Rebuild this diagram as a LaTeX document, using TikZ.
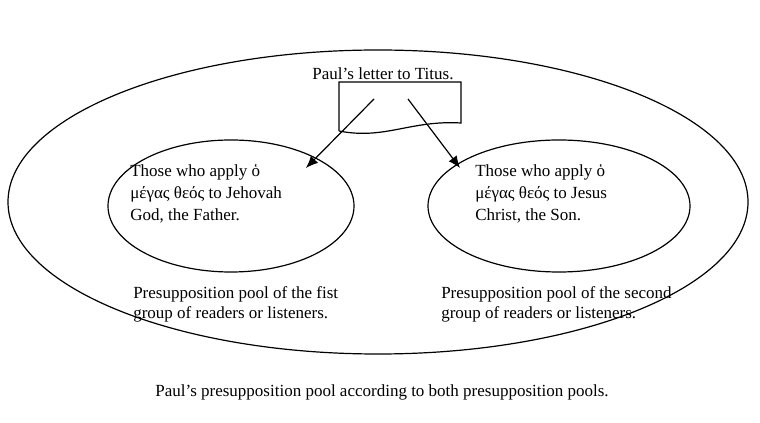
\documentclass[tikz,border=0pt]{standalone}
\usepackage{fontspec}
\setmainfont{Liberation Serif}
\usetikzlibrary{arrows.meta,shapes.geometric}

\tikzset{
  pool/.style={draw, ellipse, line width=0.9pt, inner sep=0pt},
  lbl/.style={inner sep=0pt, align=left, anchor=west},
  apply/.style={-{Latex[length=9pt,width=7.5pt]}, line width=0.9pt}
}

\begin{document}
\begin{tikzpicture}[x=0.75pt, y=-0.75pt, font=\fontsize{12.75}{15}\selectfont]
  \useasboundingbox (0,0) rectangle (760,423);

  % Outer pool and the two group pools
  \node[pool, minimum width=555pt, minimum height=228pt] (paulpool) at (378,202) {};
  \node[pool, minimum width=184.5pt, minimum height=99pt] (fatherpool) at (231,206) {};
  \node[pool, minimum width=196.5pt, minimum height=99pt] (sonpool) at (559,206) {};

  % The letter (document with wavy bottom)
  \draw[line width=0.9pt] (339,131) -- (339,82) -- (461,82) -- (461,123)
    .. controls (410,120) and (385,140) .. (339,131);
  \coordinate (letterL) at (374,99);
  \coordinate (letterR) at (408,99);
  \coordinate (tipL) at (306,168);
  \coordinate (tipR) at (460,168);

  % Arrows into the two groups
  \draw[apply] (letterL) -- (tipL);
  \draw[apply] (letterR) -- (tipR);

  % Titles
  \node[inner sep=0pt] (letter) at (383,74) {Paul’s letter to Titus.};
  \node[inner sep=0pt] (both) at (382,392)
    {Paul’s presupposition pool according to both presupposition pools.};

  % Group texts
  \node[lbl, font=\fontsize{12.75}{16.5}\selectfont] (fathertxt) at (130,194)
    {Those who apply ὁ\\μέγας θεός to Jehovah\\God, the Father.};
  \node[lbl, font=\fontsize{12.75}{16.5}\selectfont] (sontxt) at (475,194)
    {Those who apply ὁ\\μέγας θεός to Jesus\\Christ, the Son.};

  % Pool labels
  \node[lbl] (firstlbl) at (133,304)
    {Presupposition pool of the fist\\group of readers or listeners.};
  \node[lbl] (secondlbl) at (441,304)
    {Presupposition pool of the second\\group of readers or listeners.};

\end{tikzpicture}
\end{document}
